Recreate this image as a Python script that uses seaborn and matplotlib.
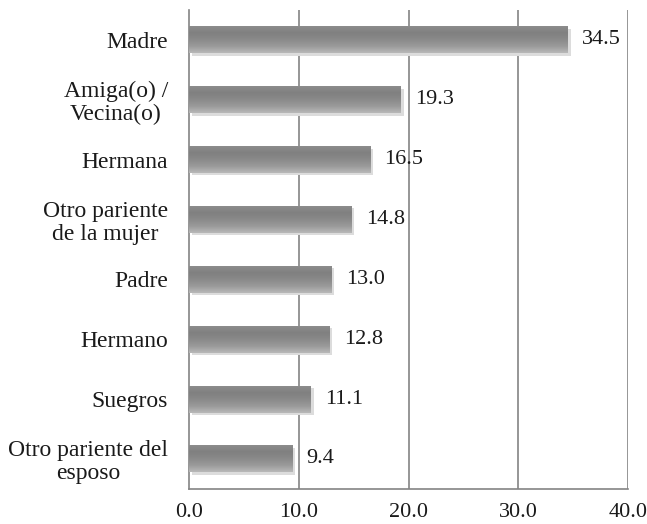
import matplotlib
matplotlib.use("Agg")
import matplotlib.pyplot as plt
import seaborn as sns
import numpy as np
import pandas as pd

categories = ["Madre", "Amiga(o) /\nVecina(o)", "Hermana", "Otro pariente\nde la mujer",
              "Padre", "Hermano", "Suegros", "Otro pariente del\nesposo"]
values = [34.5, 19.3, 16.5, 14.8, 13.0, 12.8, 11.1, 9.4]
xticks = [0, 10, 20, 30, 40]

sns.set_theme(style="white")
plt.rcParams['font.family'] = ['Liberation Serif', 'DejaVu Serif']

df = pd.DataFrame({"cat": categories, "val": values})

fig = plt.figure(figsize=(6.47, 5.24), dpi=100)
ax = fig.add_axes([0.292, 0.067, 0.679, 0.914])

sns.barplot(data=df, y="cat", x="val", orient="h", color="#8c8c8c",
            width=0.45, ax=ax, zorder=3, saturation=1)

# gradient shading on each bar
grad = np.linspace(0, 1, 64).reshape(-1, 1)
cmap = matplotlib.colors.LinearSegmentedColormap.from_list(
    "g", ["#b8b8b8", "#9a9a9a", "#8a8a8a", "#808080", "#8c8c8c"])
for p in list(ax.patches):
    x0, y0 = p.get_x(), p.get_y()
    w, h = p.get_width(), p.get_height()
    sh = matplotlib.patches.Rectangle((x0 + 0.25, y0 + 0.04), w, h, color="#dcdcdc",
                                      zorder=2, lw=0)
    ax.add_patch(sh)
    im = ax.imshow(grad, extent=[x0, x0 + w, y0, y0 + h], aspect="auto",
                   cmap=cmap, zorder=4, origin="upper")
    im.set_clip_path(p)
    p.set_edgecolor("none")

for i, v in enumerate(values):
    ax.text(v + 1.3, i, f"{v:.1f}", va="center", ha="left", fontsize=16,
            color="#1a1a1a", zorder=5)

ax.set_xlim(0, 40)
ax.set_ylim(len(values) - 0.5, -0.5)
ax.set_xticks(xticks)
ax.set_xticklabels([f"{t:.1f}" for t in xticks], fontsize=16, color="#1a1a1a")
ax.tick_params(axis="y", labelsize=17, length=0, pad=15, labelcolor="#1a1a1a")
ax.tick_params(axis="x", length=0, pad=10)
for lbl in ax.get_yticklabels():
    lbl.set_linespacing(1.12)
    lbl.set_multialignment("center")
ax.set_xlabel("")
ax.set_ylabel("")

ax.grid(False)
for t in xticks[1:]:
    ax.axvline(t, color="#848484", lw=1.2, zorder=1)

for s in ["top", "right"]:
    ax.spines[s].set_visible(False)
for s in ["left", "bottom"]:
    ax.spines[s].set_color("#848484")
    ax.spines[s].set_linewidth(1.2)

fig.savefig("out.png", dpi=100)
